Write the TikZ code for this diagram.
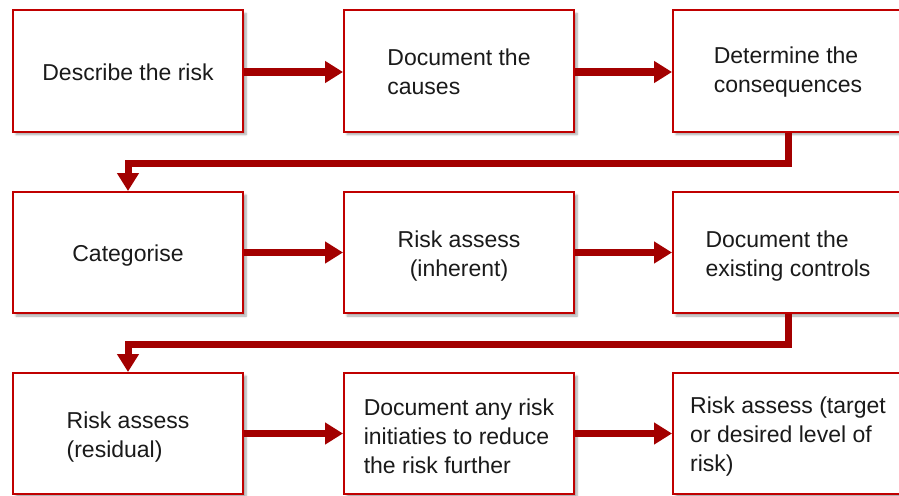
\documentclass[tikz,border=0pt]{standalone}
\usepackage{fontspec}
\setmainfont{Liberation Sans}
\usetikzlibrary{arrows.meta,shadows.blur}
\definecolor{boxred}{HTML}{C00000}
\definecolor{arrred}{HTML}{A30000}
\definecolor{txt}{HTML}{1A1A1A}
\begin{document}
\begin{tikzpicture}[x=1pt,y=1pt,
  box/.style={draw=boxred, line width=2pt, fill=white, minimum width=230pt, minimum height=121pt,
    inner sep=0pt,
    blur shadow={shadow blur steps=6, shadow xshift=3pt, shadow yshift=-3pt, shadow opacity=35}},
  lbl/.style={inner sep=0pt, align=left, text=txt, font=\fontsize{23}{29}\selectfont},
  flow/.style={draw=arrred, line width=7pt, -{Triangle[length=18pt,width=21pt]}}
]
\useasboundingbox (0,0) rectangle (899,-495);
% boxes
\node[box] (b1) at (128,-71) {};
\node[box] (b2) at (459,-71) {};
\node[box] (b3) at (788,-71) {};
\node[box] (b4) at (128,-252.5) {};
\node[box] (b5) at (459,-252.5) {};
\node[box] (b6) at (788,-252.5) {};
\node[box] (b7) at (128,-433.5) {};
\node[box] (b8) at (459,-433.5) {};
\node[box] (b9) at (788,-433.5) {};
% texts
\node[lbl] (t1) at ([yshift=-1pt]b1.center) {Describe the risk};
\node[lbl] (t2) at ([yshift=-1pt]b2.center) {Document the\\causes};
\node[lbl] (t3) at ([yshift=-1pt]b3.center) {Determine the\\consequences};
\node[lbl] (t4) at ([yshift=-3pt]b4.center) {Categorise};
\node[lbl, align=center] (t5) at ([yshift=-3.5pt]b5.center) {Risk assess\\(inherent)};
\node[lbl] (t6) at ([yshift=-3.5pt]b6.center) {Document the\\existing controls};
\node[lbl] (t7) at ([yshift=-3.5pt]b7.center) {Risk assess\\(residual)};
\node[lbl] (t8) at ([yshift=-3pt]b8.center) {Document any risk\\initiaties to reduce\\the risk further};
\node[lbl] (t9) at ([yshift=-3pt]b9.center) {Risk assess (target\\or desired level of\\risk)};
% connectors
\draw[flow] ([yshift=-1pt]b1.east) -- ([yshift=-1pt]b2.west);
\draw[flow] ([yshift=-1pt]b2.east) -- ([yshift=-1pt]b3.west);
\draw[flow] (b4) -- (b5);
\draw[flow] (b5) -- (b6);
\draw[flow] (b7) -- (b8);
\draw[flow] (b8) -- (b9);
\draw[flow, line join=miter] (b3.south) -- ++(0,-31) -| (b4.north);
\draw[flow, line join=miter] (b6.south) -- ++(0,-30) -| (b7.north);
\end{tikzpicture}
\end{document}
